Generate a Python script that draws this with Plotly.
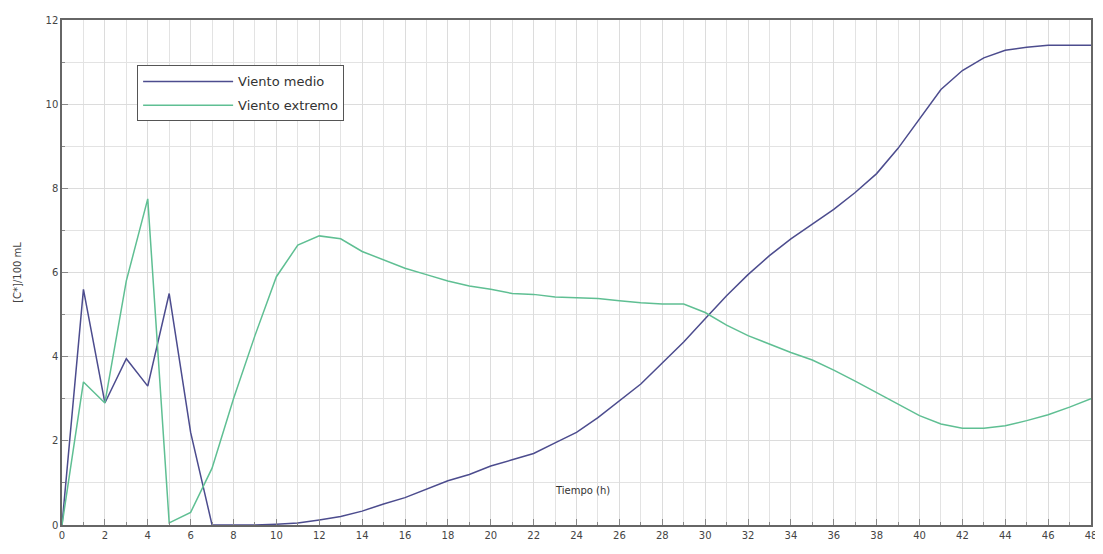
import plotly.graph_objects as go

hours = list(range(0, 49))

viento_medio = [0, 5.6, 2.9, 3.95, 3.3, 5.5, 2.2, 0, 0, 0, 0.02, 0.05, 0.12, 0.2,
                0.33, 0.5, 0.65, 0.85, 1.05, 1.2, 1.4, 1.55, 1.7, 1.95, 2.2, 2.55,
                2.95, 3.35, 3.85, 4.35, 4.9, 5.45, 5.95, 6.4, 6.8, 7.15, 7.5, 7.9,
                8.35, 8.95, 9.65, 10.35, 10.8, 11.1, 11.28, 11.35, 11.4, 11.4, 11.4]

viento_extremo = [0, 3.4, 2.9, 5.8, 7.75, 0.05, 0.3, 1.35, 3.0, 4.5, 5.9, 6.65,
                  6.87, 6.8, 6.5, 6.3, 6.1, 5.95, 5.8, 5.68, 5.6, 5.5, 5.48, 5.42,
                  5.4, 5.38, 5.33, 5.28, 5.25, 5.25, 5.05, 4.75, 4.5, 4.3, 4.1,
                  3.92, 3.68, 3.42, 3.15, 2.88, 2.6, 2.4, 2.3, 2.3, 2.36, 2.48,
                  2.62, 2.8, 3.0]

FONT = "DejaVu Sans"

fig = go.Figure()
fig.add_trace(go.Scatter(x=hours, y=viento_medio, mode="lines", name="Viento medio",
                         legendgroup="a",
                         line=dict(color="#4c4c8e", width=1.5)))
fig.add_trace(go.Scatter(x=hours, y=viento_extremo, mode="lines", name="Viento extremo",
                         legendgroup="b",
                         line=dict(color="#5fbf93", width=1.5)))

# page adds a small body margin, so margins are trimmed to match
fig.update_layout(
    width=1103, height=554,
    margin=dict(l=54, r=20, t=6, b=37),
    paper_bgcolor="white", plot_bgcolor="white",
    font=dict(family=FONT, size=10, color="#444"),
    showlegend=True,
    legend=dict(x=0.073, y=0.91, xanchor="left", yanchor="top",
                bordercolor="#555", borderwidth=1, bgcolor="white",
                font=dict(family=FONT, size=13, color="#333"),
                itemwidth=90, tracegroupgap=4, traceorder="grouped"),
    annotations=[dict(text="Tiempo (h)", x=24.3, y=0.82, xref="x", yref="y",
                      showarrow=False, xanchor="center",
                      font=dict(family=FONT, size=10, color="#333"))],
)

fig.update_xaxes(range=[0, 48], tickvals=list(range(0, 49, 2)),
                 showgrid=True, gridcolor="#dcdcdc", gridwidth=1,
                 minor=dict(dtick=1, showgrid=True, gridcolor="#e3e3e3",
                            ticks="inside", ticklen=3, tickcolor="#888"),
                 ticks="inside", ticklen=6, tickcolor="#888",
                 showline=True, linecolor="#666", linewidth=1.5, mirror=True,
                 zeroline=False, tickfont=dict(size=10, color="#444"))
fig.update_yaxes(range=[0, 12], tickvals=list(range(0, 13, 2)),
                 showgrid=True, gridcolor="#dcdcdc", gridwidth=1,
                 minor=dict(dtick=1, showgrid=True, gridcolor="#e3e3e3",
                            ticks="inside", ticklen=3, tickcolor="#888"),
                 ticks="inside", ticklen=6, tickcolor="#888",
                 showline=True, linecolor="#666", linewidth=1.5, mirror=True,
                 zeroline=False, tickfont=dict(size=10, color="#444"),
                 title=dict(text="[C*]/100 mL", font=dict(size=10, color="#444"),
                            standoff=22))

fig.write_html("out.html")
